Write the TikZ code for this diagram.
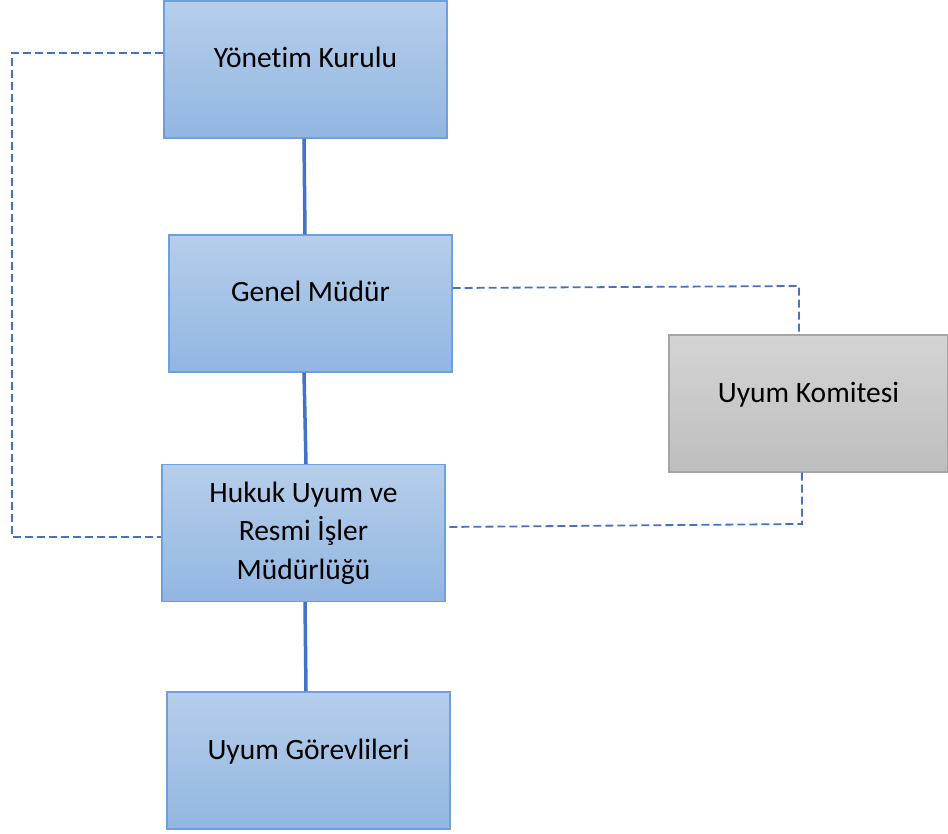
\documentclass[tikz,border=0pt]{standalone}
\usepackage{fontspec}
\setmainfont[Ligatures=NoCommon]{Carlito}
\usetikzlibrary{calc}
\definecolor{bluetop}{RGB}{182,206,234}
\definecolor{bluebot}{RGB}{146,182,226}
\definecolor{blueedge}{RGB}{110,160,222}
\definecolor{graytop}{RGB}{212,212,212}
\definecolor{graybot}{RGB}{190,190,190}
\definecolor{grayedge}{RGB}{165,165,165}
\definecolor{linkblue}{RGB}{68,114,196}
\tikzset{
  orgbox/.style={draw=blueedge, line width=1.2pt, top color=bluetop, bottom color=bluebot,
    minimum width=283pt, minimum height=137pt, inner sep=0pt, align=center,
    font=\fontsize{29.5}{38.5}\selectfont},
  onebox/.style={orgbox, text height=20pt, text depth=23pt},
  graybox/.style={onebox, draw=grayedge, top color=graytop, bottom color=graybot, minimum width=279pt},
  solidlink/.style={draw=linkblue, line width=3.5pt},
  dashlink/.style={draw=linkblue, line width=1.8pt, dash pattern=on 8pt off 4pt}
}
\begin{document}
\begin{tikzpicture}[x=1pt,y=-1pt]
\useasboundingbox (0,0) rectangle (948,834);
\node[onebox] (yk) at (305.5,69.5) {Yönetim Kurulu};
\node[onebox] (gm) at (310.5,303.5) {Genel Müdür};
\node[orgbox] (hu) at (303.5,533) {Hukuk Uyum ve\\Resmi İşler\\Müdürlüğü};
\node[onebox] (ug) at (308.5,760.5) {Uyum Görevlileri};
\node[graybox] (uk) at (808.5,403.5) {Uyum Komitesi};
\coordinate (c1) at (12,53);
\coordinate (c2) at (12,537);
\coordinate (c3) at (799,286);
\coordinate (c4) at (802,524);
\draw[solidlink] ($(yk.south)+(-1.5,0)$) -- ($(gm.north)+(-5.5,0)$);
\draw[solidlink] ($(gm.south)+(-6.5,0)$) -- ($(hu.north)+(2.5,0)$);
\draw[solidlink] ($(hu.south)+(1.5,0)$) -- ($(ug.north)+(-2.5,0)$);
\draw[dashlink] ($(yk.west)+(0,-16.5)$) -- (c1) -- (c2) -- ($(hu.west)+(0,4)$);
\draw[dashlink] ($(gm.east)+(0,-15.5)$) -- (c3) -- ($(uk.north)+(-9.5,0)$);
\draw[dashlink] ($(uk.south)+(-6.5,0)$) -- (c4) -- ($(hu.east)+(0,-6)$);
\end{tikzpicture}
\end{document}
